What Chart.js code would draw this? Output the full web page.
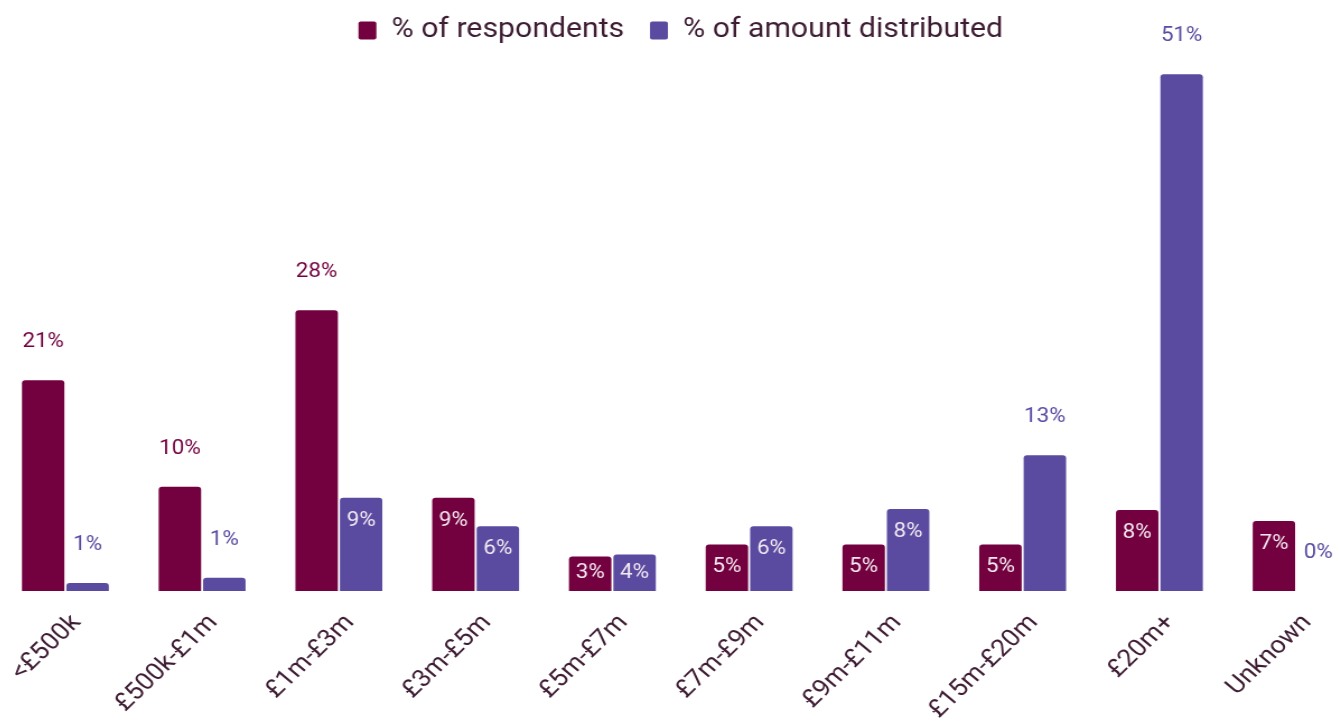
<!DOCTYPE html>
<html>
<head>
<meta charset="utf-8">
<script src="https://cdn.jsdelivr.net/npm/chart.js@4.4.1/dist/chart.umd.min.js"></script>
<style>
    html, body { margin: 0; padding: 0; background: #fff; overflow: hidden; }
    /* the source picture is a bit wider than tall, so the chart is stretched sideways */
    #wrap { position: absolute; left: -3px; top: 0; width: 1221px; height: 722px;
            transform: scaleX(1.12); transform-origin: 0 0; }
</style>
</head>
<body>
<div id="wrap"><canvas id="fundChart"></canvas></div>
<script>
// categories (size of fund)
const categories = ['<£500k', '£500k-£1m', '£1m-£3m', '£3m-£5m', '£5m-£7m', '£7m-£9m', '£9m-£11m', '£15m-£20m', '£20m+', 'Unknown'];
// series values, in %
const respondents = [20.8, 10.3, 27.7, 9.2, 3.4, 4.6, 4.6, 4.6, 8.0, 6.9];
const amountDistributed = [0.8, 1.3, 9.2, 6.4, 3.6, 6.4, 8.1, 13.4, 51.0, 0];
const seriesNames = ['% of respondents', '% of amount distributed'];

const maroon = '#73003f';
const purple = '#5a4ba1';
const textColor = '#3e1c33';

// === value labels above / inside the bars ===
const valueLabels = {
    id: 'valueLabels',
    afterDatasetsDraw(chart) {
        const ctx = chart.ctx;
        const base = chart.scales.y.getPixelForValue(0);
        ctx.save();
        ctx.font = '20px Roboto';
        ctx.textAlign = 'center';
        ctx.textBaseline = 'middle';
        chart.data.datasets.forEach((ds, i) => {
            chart.getDatasetMeta(i).data.forEach((bar, j) => {
                const v = ds.data[j];
                const txt = Math.round(v) + '%';
                if (v >= 2 && v < 9.5) {
                    ctx.fillStyle = '#f3e9f0';
                    ctx.fillText(txt, bar.x, Math.min(bar.y + 23, base - 18));
                } else {
                    ctx.fillStyle = ds.backgroundColor;
                    ctx.fillText(txt, bar.x, bar.y - 38);
                }
            });
        });
        ctx.restore();
    }
};

const ctx = document.getElementById('fundChart').getContext('2d');
new Chart(ctx, {
    type: 'bar',
    data: {
        labels: categories,
        datasets: [{
            label: seriesNames[0],
            data: respondents,
            backgroundColor: maroon,
            borderRadius: 3,
            borderSkipped: 'bottom',
            barPercentage: 0.955,
            categoryPercentage: 0.65
        }, {
            label: seriesNames[1],
            data: amountDistributed,
            backgroundColor: purple,
            borderRadius: 3,
            borderSkipped: 'bottom',
            barPercentage: 0.955,
            categoryPercentage: 0.65
        }]
    },
    options: {
        responsive: true,
        maintainAspectRatio: false,
        animation: false,
        layout: { padding: { top: -6 } },
        plugins: {
            legend: {
                position: 'top',
                labels: {
                    color: textColor,
                    font: { family: 'Roboto', size: 27 },
                    boxWidth: 16,
                    boxHeight: 18,
                    useBorderRadius: true,
                    borderRadius: 2,
                    padding: 23
                }
            },
            tooltip: { enabled: false }
        },
        scales: {
            x: {
                grid: { display: false },
                border: { display: false },
                ticks: {
                    color: textColor,
                    font: { family: 'Roboto', size: 24 },
                    minRotation: 47,
                    maxRotation: 47,
                    padding: 10,
                    labelOffset: 10
                },
                afterFit(scale) {
                    scale.height = 131;
                    // rotated labels would otherwise push the bars inwards
                    scale.paddingLeft = 0;
                    scale.paddingRight = 0;
                }
            },
            y: {
                display: false,
                min: 0,
                max: 53
            }
        }
    },
    plugins: [valueLabels]
});
</script>
</body>
</html>
